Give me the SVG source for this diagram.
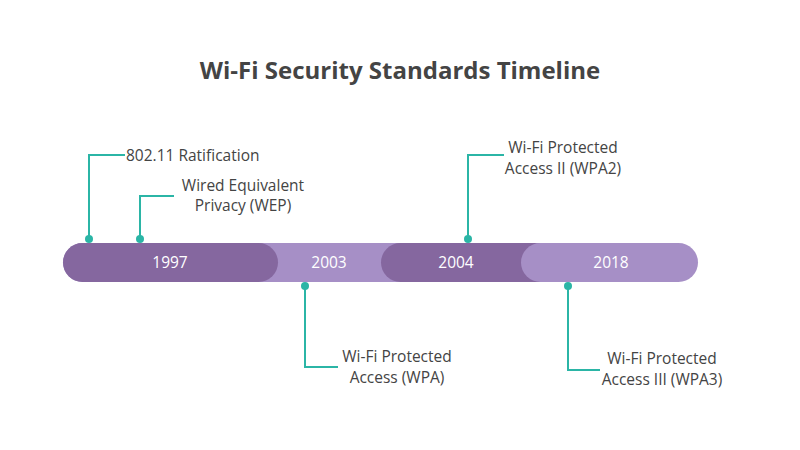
<svg xmlns="http://www.w3.org/2000/svg" width="800" height="450" viewBox="0 0 800 450">
<style>
.t{font-family:"Open Sans","Noto Sans",sans-serif;fill:#444;font-size:15.5px}
.y{font-family:"Open Sans","Noto Sans",sans-serif;fill:#fff;font-size:15.5px;text-anchor:middle}
.c{fill:none;stroke:#2bb5a6;stroke-width:2}
.d{fill:#2bb5a6}
.dk{fill:#85679f}.lt{fill:#a68fc6}
</style>
<rect width="800" height="450" fill="#fff"/>
<text x="400" y="79" text-anchor="middle" style="font-family:'Open Sans','Noto Sans',sans-serif;font-weight:bold;font-size:24px;fill:#444">Wi-Fi Security Standards Timeline</text>
<g id="bar2003"><rect class="lt" x="63" y="243" width="360" height="39" rx="19.5"/><text class="y" x="329" y="268">2003</text></g>
<g id="bar1997"><rect class="dk" x="63" y="243" width="215" height="39" rx="19.5"/><text class="y" x="170" y="268">1997</text></g>
<g id="bar2004"><rect class="dk" x="381" y="243" width="180" height="39" rx="19.5"/><text class="y" x="456" y="268">2004</text></g>
<g id="bar2018"><rect class="lt" x="521" y="243" width="177" height="39" rx="19.5"/><text class="y" x="611" y="268">2018</text></g>
<g id="connectors">
<path class="c" d="M89 239V155H125"/><circle class="d" cx="89" cy="239" r="4"/>
<path class="c" d="M140 239V196H174"/><circle class="d" cx="140" cy="239" r="4"/>
<path class="c" d="M468 239V155H504"/><circle class="d" cx="468" cy="239" r="4"/>
<path class="c" d="M305 286V367H338"/><circle class="d" cx="305" cy="286" r="4"/>
<path class="c" d="M568 286V370H600"/><circle class="d" cx="568" cy="286" r="4"/>
</g>
<g id="l1"><text class="t" x="126" y="161">802.11 Ratification</text></g>
<g id="l2"><text class="t" x="243" y="191" text-anchor="middle">Wired Equivalent</text><text class="t" x="243" y="211" text-anchor="middle">Privacy (WEP)</text></g>
<g id="l3"><text class="t" x="563" y="153" text-anchor="middle">Wi-Fi Protected</text><text class="t" x="563" y="174" text-anchor="middle">Access II (WPA2)</text></g>
<g id="l4"><text class="t" x="397" y="362" text-anchor="middle">Wi-Fi Protected</text><text class="t" x="397" y="383" text-anchor="middle">Access (WPA)</text></g>
<g id="l5"><text class="t" x="662" y="364" text-anchor="middle">Wi-Fi Protected</text><text class="t" x="662" y="385" text-anchor="middle">Access III (WPA3)</text></g>
</svg>
